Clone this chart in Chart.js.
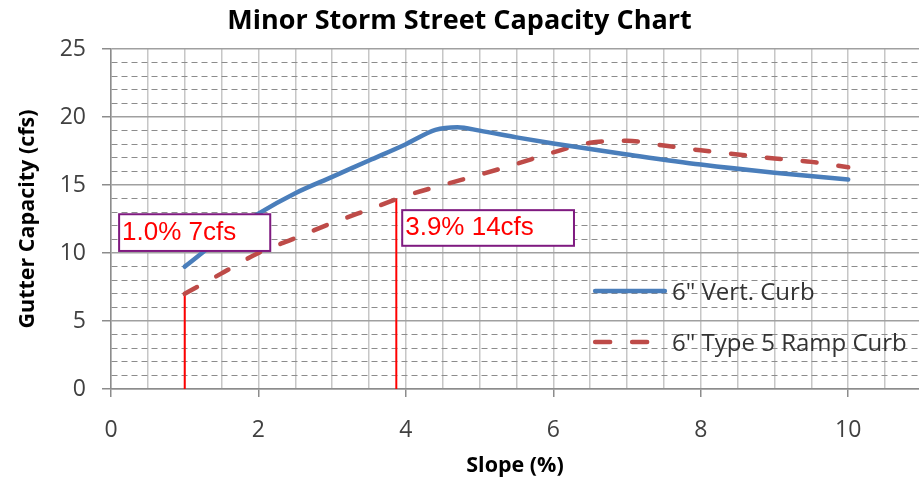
<!DOCTYPE html>
<html><head><meta charset="utf-8">
<script src="https://cdn.jsdelivr.net/npm/chart.js@4.4.0/dist/chart.umd.min.js"></script>
<style>html,body{margin:0;padding:0;background:#fff;overflow:hidden}#wrap{width:919px;height:482px;position:relative}</style>
</head><body><div id="wrap"><canvas id="c"></canvas></div>
<script>
const chartTitle = 'Minor Storm Street Capacity Chart';
const xAxisTitle = 'Slope (%)';
const yAxisTitle = 'Gutter Capacity (cfs)';
const seriesNames = ['6" Vert. Curb', '6" Type 5 Ramp Curb'];
const vertSlope    = [1, 1.5, 2, 2.5, 3, 3.5, 4, 4.4, 4.7, 5, 5.5, 6, 7, 8, 9, 10];
const vertCapacity = [9.0, 11.1, 12.9, 14.4, 15.6, 16.8, 18.0, 19.05, 19.25, 19.0, 18.5, 18.05, 17.25, 16.5, 15.9, 15.4];
const rampSlope    = [1, 1.5, 2, 2.5, 3, 3.5, 4, 4.5, 5, 5.5, 6, 6.5, 7, 7.5, 8, 8.5, 9, 9.5, 10];
const rampCapacity = [7.0, 8.5, 10.0, 11.1, 12.2, 13.2, 14.2, 15.0, 15.75, 16.55, 17.4, 18.1, 18.25, 17.9, 17.55, 17.25, 16.95, 16.7, 16.3];
const markerSlope    = [1, 3.87];
const markerCapacity = [7, 14];
const markerLabels   = ['1.0% 7cfs', '3.9% 14cfs'];
const xTickLabels = [0, 2, 4, 6, 8, 10];
const yTickLabels = [0, 5, 10, 15, 20, 25];

const pts = (xs, ys) => xs.map((v, i) => ({x: v, y: ys[i]}));
const BLUE = '#4a7ebb', RED = '#be4b48';
const FONT = '"Open Sans"';

const datasets = [
  {label: seriesNames[0], data: pts(vertSlope, vertCapacity), borderColor: BLUE, borderWidth: 4.5,
   pointRadius: 0, cubicInterpolationMode: 'monotone', borderCapStyle: 'round', fill: false},
  {label: seriesNames[1], data: pts(rampSlope, rampCapacity), borderColor: RED, borderWidth: 4.5,
   borderDash: [14, 22], borderCapStyle: 'round', pointRadius: 0, cubicInterpolationMode: 'monotone', fill: false}
];
markerSlope.forEach((s, i) => datasets.push({
  label: 'marker' + i, data: [{x: s, y: 0}, {x: s, y: markerCapacity[i]}],
  borderColor: '#ff0000', borderWidth: 2, pointRadius: 0, tension: 0, fill: false
}));

const overlay = {
  id: 'overlay',
  afterDatasetsDraw(chart, args, opts) {
    const {ctx, scales: {x, y}} = chart;
    ctx.save();
    opts.boxes.forEach((b, i) => {
      const l = x.getPixelForValue(b.x0), r = x.getPixelForValue(b.x1);
      const t = y.getPixelForValue(b.y1), bt = y.getPixelForValue(b.y0);
      ctx.fillStyle = '#ffffff';
      ctx.fillRect(l, t, r - l, bt - t);
      ctx.strokeStyle = '#7f1a80';
      ctx.lineWidth = 2;
      ctx.strokeRect(l, t, r - l, bt - t);
      ctx.fillStyle = '#ff0000';
      ctx.font = '26px "Liberation Sans"';
      ctx.textBaseline = 'alphabetic';
      ctx.textAlign = 'left';
      ctx.fillText(markerLabels[i], l + 3, (t + bt) / 2 + 7.5);
    });
    const lg = opts.legend;
    const x0 = x.getPixelForValue(lg.x0), x1 = x.getPixelForValue(lg.x1), tx = x.getPixelForValue(lg.tx);
    [0, 1].forEach(i => {
      const ds = chart.data.datasets[i];
      const yy = y.getPixelForValue(lg.rows[i]);
      ctx.beginPath();
      ctx.setLineDash(i === 1 ? [15, 22] : []);
      ctx.lineCap = 'round';
      ctx.strokeStyle = ds.borderColor;
      ctx.lineWidth = 4.5;
      ctx.moveTo(x0 + 2, yy); ctx.lineTo(x1 - 2, yy); ctx.stroke();
      ctx.setLineDash([]);
      ctx.fillStyle = '#333333';
      ctx.font = '24px ' + FONT;
      ctx.textBaseline = 'alphabetic';
      ctx.fillText(ds.label, tx, yy + 8.5);
    });
    ctx.restore();
  }
};

const isMajorY = c => c.tick && yTickLabels.includes(c.tick.value);
const isMajorX = c => c.tick && xTickLabels.includes(c.tick.value);

new Chart(document.getElementById('c'), {
  type: 'line',
  data: {datasets},
  plugins: [overlay],
  options: {
    responsive: true, maintainAspectRatio: false, animation: false,
    layout: {padding: 0},
    plugins: {
      legend: {display: false},
      tooltip: {enabled: false},
      title: {display: true, text: chartTitle, color: '#000', font: {family: FONT, size: 27, weight: 'bold'},
              padding: {top: 5, bottom: 11.6}},
      overlay: {
        boxes: [{x0: 0.11, x1: 2.16, y0: 10.15, y1: 12.85}, {x0: 3.95, x1: 6.28, y0: 10.53, y1: 13.15}],
        legend: {x0: 6.54, x1: 7.54, tx: 7.61, rows: [7.2, 3.45]}
      }
    },
    scales: {
      x: {
        type: 'linear', min: 0, max: 10.96,
        afterFit(s) { s.height = 93; },
        ticks: {stepSize: 0.5, includeBounds: false, autoSkip: false, maxRotation: 0, color: '#404040',
                font: {family: FONT, size: 23}, padding: 20,
                callback: v => xTickLabels.includes(v) ? String(v) : ''},
        grid: {color: '#c6c6c6', lineWidth: 1.5, tickLength: 8, tickWidth: 1.5,
               tickColor: c => isMajorX(c) ? '#8c8c8c' : 'rgba(0,0,0,0)'},
        border: {color: '#8c8c8c', width: 1.5},
        title: {display: true, text: xAxisTitle, color: '#000', font: {family: FONT, size: 21.5, weight: 'bold'},
                padding: {top: 0, bottom: 3}}
      },
      y: {
        min: 0, max: 25,
        afterFit(s) { s.width = 111; },
        ticks: {stepSize: 1, autoSkip: false, color: '#404040', font: {family: FONT, size: 23}, padding: 16,
                callback: v => yTickLabels.includes(v) ? String(v) : ''},
        grid: {color: c => isMajorY(c) ? '#a0a0a0' : '#8c8c8c', lineWidth: c => isMajorY(c) ? 1.5 : 1,
               tickLength: 9, tickWidth: 1.5,
               tickColor: c => isMajorY(c) ? '#8c8c8c' : 'rgba(0,0,0,0)'},
        border: {color: '#8c8c8c', width: 1.5, dash: c => (c.tick && !yTickLabels.includes(c.tick.value)) ? [6, 4] : []},
        title: {display: true, text: yAxisTitle, color: '#000', font: {family: FONT, size: 21.5, weight: 'bold'},
                padding: {top: 15, bottom: 0}}
      }
    }
  }
});
</script>
</body></html>
